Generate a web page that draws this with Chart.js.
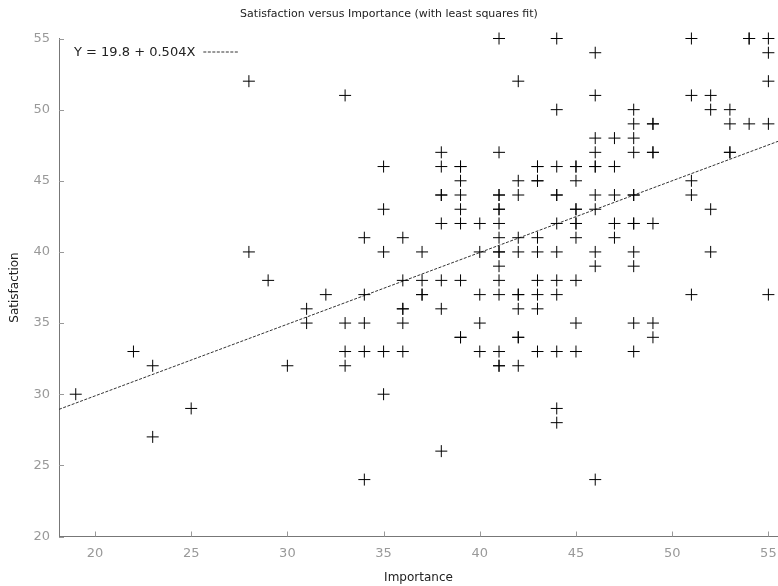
<!DOCTYPE html>
<html>
<head>
<meta charset="utf-8">
<script src="https://cdn.jsdelivr.net/npm/chart.js@4"></script>
<style>
html, body { margin: 0; padding: 0; background: #fff; }
#wrap { width: 778px; height: 586px; }
</style>
</head>
<body>
<div id="wrap"><canvas id="chart"></canvas></div>
<script>
// one entry per respondent, grouped by importance score
var importance = [
    19, 22, 23, 23, 25, 28, 28, 29, 30, 31, 31, 32,
    33, 33, 33, 33,
    34, 34, 34, 34, 34,
    35, 35, 35, 35, 35,
    36, 36, 36, 36, 36, 36,
    37, 37, 37, 37,
    38, 38, 38, 38, 38, 38, 38, 38,
    39, 39, 39, 39, 39, 39, 39, 39, 39,
    40, 40, 40, 40, 40,
    41, 41, 41, 41, 41, 41, 41, 41, 41, 41, 41, 41, 41, 41, 41, 41,
    42, 42, 42, 42, 42, 42, 42, 42, 42, 42, 42,
    43, 43, 43, 43, 43, 43, 43, 43, 43, 43,
    44, 44, 44, 44, 44, 44, 44, 44, 44, 44, 44, 44,
    45, 45, 45, 45, 45, 45, 45, 45, 45, 45, 45,
    46, 46, 46, 46, 46, 46, 46, 46, 46, 46, 46,
    47, 47, 47, 47, 47,
    48, 48, 48, 48, 48, 48, 48, 48, 48, 48, 48, 48,
    49, 49, 49, 49, 49, 49, 49,
    51, 51, 51, 51, 51,
    52, 52, 52, 52,
    53, 53, 53, 53,
    54, 54, 54,
    55, 55, 55, 55, 55
];
var satisfaction = [
    30, 33, 32, 27, 29, 52, 40, 38, 32, 36, 35, 37,
    51, 35, 33, 32,
    41, 37, 35, 33, 24,
    46, 43, 40, 33, 30,
    41, 38, 36, 36, 35, 33,
    40, 38, 37, 37,
    47, 46, 44, 44, 42, 38, 36, 26,
    46, 46, 45, 44, 43, 42, 38, 34, 34,
    42, 40, 37, 35, 33,
    55, 47, 44, 44, 43, 43, 42, 41, 40, 40, 39, 38, 37, 33, 32, 32,
    52, 45, 44, 41, 40, 37, 37, 36, 34, 34, 32,
    46, 46, 45, 45, 41, 40, 38, 37, 36, 33,
    55, 50, 46, 44, 44, 42, 40, 38, 37, 33, 29, 28,
    46, 46, 45, 43, 43, 42, 42, 41, 38, 35, 33,
    54, 51, 48, 47, 46, 46, 44, 43, 40, 39, 24,
    48, 46, 44, 42, 41,
    50, 49, 48, 47, 44, 44, 42, 42, 40, 39, 35, 33,
    49, 49, 47, 47, 42, 35, 34,
    55, 51, 45, 44, 37,
    51, 50, 43, 40,
    50, 49, 47, 47,
    55, 55, 49,
    55, 54, 52, 49, 37
];

// least squares fit, as printed on the chart
var fitIntercept = 19.8;
var fitSlope = 0.504;
var fitLabel = 'Y = 19.8 + 0.504X';

var xTicks = [20, 25, 30, 35, 40, 45, 50, 55];
var yTicks = [20, 25, 30, 35, 40, 45, 50, 55];
var xMin = 18.13, xMax = 55.5;
var yMin = 20, yMax = 55;

var points = importance.map(function(x, i) {
    return {x: x, y: satisfaction[i]};
});
var fitLine = [xMin, xMax].map(function(x) {
    return {x: x, y: fitIntercept + fitSlope * x};
});

var FONT = "'DejaVu Sans', sans-serif";

// short tick marks pointing into the plot, plus the fit legend
var insideTicks = {
    id: 'insideTicks',
    afterDraw: function(chart) {
        var ctx = chart.ctx;
        var xs = chart.scales.x, ys = chart.scales.y;
        var area = chart.chartArea;
        ctx.save();
        ctx.strokeStyle = '#999';
        ctx.lineWidth = 1;
        ctx.beginPath();
        xs.ticks.forEach(function(t) {
            var px = Math.round(xs.getPixelForValue(t.value)) + 0.5;
            ctx.moveTo(px, area.bottom);
            ctx.lineTo(px, area.bottom - 5);
        });
        ys.ticks.forEach(function(t) {
            var py = Math.round(ys.getPixelForValue(t.value)) + 0.5;
            ctx.moveTo(area.left, py);
            ctx.lineTo(area.left + 5, py);
        });
        ctx.stroke();

        ctx.font = '13px ' + FONT;
        ctx.fillStyle = '#222';
        ctx.textBaseline = 'middle';
        ctx.textAlign = 'left';
        var tx = area.left + 15, ty = area.top + 14.5;
        ctx.fillText(fitLabel, tx, ty);
        var w = ctx.measureText(fitLabel).width;
        ctx.strokeStyle = '#333';
        ctx.setLineDash([3, 1.5]);
        ctx.beginPath();
        ctx.moveTo(tx + w + 8, ty - 1);
        ctx.lineTo(tx + w + 44, ty - 1);
        ctx.stroke();
        ctx.restore();
    }
};

new Chart(document.getElementById('chart'), {
    type: 'scatter',
    data: {
        datasets: [{
            label: 'data',
            data: points,
            pointStyle: 'cross',
            pointRadius: 6,
            pointHoverRadius: 6,
            borderColor: '#000',
            backgroundColor: '#000',
            pointBorderWidth: 1,
            clip: false
        }, {
            type: 'line',
            label: fitLabel,
            data: fitLine,
            borderColor: '#333',
            borderWidth: 1,
            borderDash: [3, 1.5],
            pointRadius: 0,
            fill: false
        }]
    },
    options: {
        responsive: true,
        maintainAspectRatio: false,
        animation: false,
        layout: {padding: 0, autoPadding: false},
        plugins: {
            legend: {display: false},
            tooltip: {enabled: false},
            title: {
                display: true,
                text: 'Satisfaction versus Importance (with least squares fit)',
                color: '#222',
                font: {family: FONT, size: 11, weight: 'normal'},
                padding: {top: 8, bottom: 17.3}
            }
        },
        scales: {
            x: {
                type: 'linear',
                min: xMin,
                max: xMax,
                afterBuildTicks: function(s) { s.ticks = xTicks.map(function(v) { return {value: v}; }); },
                afterFit: function(s) { s.height = 49.5; s.paddingLeft = 0; s.paddingRight = 0; },
                grid: {drawOnChartArea: false, drawTicks: false},
                border: {color: '#777'},
                ticks: {color: '#999', font: {family: FONT, size: 13}, padding: 9, maxRotation: 0},
                title: {display: true, text: 'Importance', color: '#222', font: {family: FONT, size: 12}, padding: {top: 0, bottom: 1}}
            },
            y: {
                min: yMin,
                max: yMax,
                afterBuildTicks: function(s) { s.ticks = yTicks.map(function(v) { return {value: v}; }); },
                afterFit: function(s) { s.width = 59; s.paddingTop = 0; s.paddingBottom = 0; },
                grid: {drawOnChartArea: false, drawTicks: false},
                border: {color: '#777'},
                ticks: {color: '#999', font: {family: FONT, size: 13}, padding: 9},
                title: {display: true, text: 'Satisfaction', color: '#222', font: {family: FONT, size: 12}, padding: {top: 8, bottom: 0}}
            }
        }
    },
    plugins: [insideTicks]
});
</script>
</body>
</html>
